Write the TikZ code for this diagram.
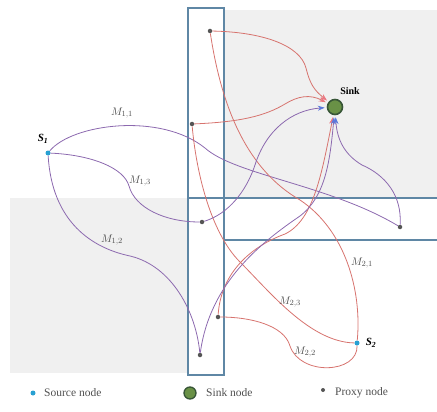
\documentclass[tikz,border=0pt]{standalone}
\usepackage{fontspec}
\setmainfont{Liberation Serif}
\usetikzlibrary{arrows.meta}
\definecolor{bggray}{RGB}{240,240,240}
\definecolor{stripblue}{RGB}{95,135,165}
\definecolor{purp}{RGB}{140,105,175}
\definecolor{redl}{RGB}{215,115,110}
\definecolor{arrowblue}{RGB}{90,120,220}
\definecolor{arrowred}{RGB}{235,120,130}
\definecolor{proxygray}{RGB}{85,85,85}
\definecolor{srcblue}{RGB}{40,160,210}
\definecolor{sinkgreen}{RGB}{105,145,70}
\definecolor{sinkdark}{RGB}{55,85,55}
\definecolor{labgray}{RGB}{80,80,80}
\begin{document}
\begin{tikzpicture}[x=1pt,y=-1pt,
  proxy/.style={circle,fill=proxygray,inner sep=0pt,minimum size=4.5pt},
  src/.style={circle,fill=srcblue,inner sep=0pt,minimum size=5pt},
  sinknode/.style={circle,fill=sinkgreen,draw=sinkdark,line width=1.6pt,minimum size=15pt,inner sep=0pt},
  pl/.style={draw=purp,line width=0.8pt},
  rl/.style={draw=redl,line width=0.8pt},
  arrB/.style={-{Stealth[length=7pt,width=5pt,color=arrowblue]},shorten >=2pt},
  arrR/.style={-{Stealth[length=7pt,width=5pt,color=arrowred]},shorten >=2pt},
  lbl/.style={text=labgray,font=\fontsize{11}{12}\selectfont},
  strip/.style={draw=stripblue,line width=1.1pt},
  legtext/.style={text=labgray,font=\fontsize{11.5}{12}\selectfont,anchor=west,inner sep=0pt}]
\useasboundingbox (0,0) rectangle (437,412);
% gray areas
\fill[bggray] (224,10) rectangle (437,198);
\fill[bggray] (10,198) rectangle (188,373);
% strips
\draw[strip] (188,8) rectangle (224,375);
\draw[strip] (188,198) -- (437,198);
\draw[strip] (224,240) -- (437,240);
% nodes
\node[src] (S1) at (48,153) {};
\node[src] (S2) at (357,343) {};
\node[sinknode] (K) at (335,107) {};
\node[proxy] (P1) at (210,31) {};
\node[proxy] (P2) at (192,124) {};
\node[proxy] (P3) at (202,222) {};
\node[proxy] (P4) at (400,227) {};
\node[proxy] (P5) at (218,317) {};
\node[proxy] (P6) at (200,355) {};
% S1 routes
\draw[pl] (S1) .. controls (72,124) and (160,112) .. (205,148) .. controls (235,175) and (330,185) .. (P4);
\draw[pl] (S1) .. controls (92,155) and (124,168) .. (129,186) .. controls (135,208) and (165,222) .. (P3);
\draw[pl] (S1) .. controls (52,222) and (92,248) .. (130,256) .. controls (172,266) and (196,312) .. (P6);
% S2 routes
\draw[rl] (S2) .. controls (362,290) and (345,230) .. (300,200) .. controls (248,170) and (222,110) .. (P1);
\draw[rl] (S2) .. controls (310,342) and (270,292) .. (240,262) .. controls (210,232) and (196,170) .. (P2);
\draw[rl] (S2) .. controls (358,374) and (300,376) .. (290,346) .. controls (284,325) and (250,317) .. (P5);
% proxy -> sink
\draw[rl,arrR] (P1) .. controls (262,32) and (300,45) .. (306,68) .. controls (310,84) and (314,90) .. (K);
\draw[rl,arrR] (P2) .. controls (240,122) and (265,116) .. (285,104) .. controls (298,96) and (310,94) .. (K);
\draw[pl,arrB] (P3) .. controls (228,214) and (246,192) .. (255,165) .. controls (266,130) and (292,110) .. (K);
\draw[rl,arrR] (P5) .. controls (221,272) and (252,246) .. (285,234) .. controls (314,220) and (322,172) .. (K);
\draw[pl,arrB] (P6) .. controls (210,282) and (262,242) .. (300,216) .. controls (326,196) and (330,160) .. (K);
\draw[pl,arrB] (P4) .. controls (402,195) and (385,175) .. (362,165) .. controls (345,155) and (337,140) .. (K);
% labels
\node[font=\bfseries\itshape\fontsize{11}{12}\selectfont,inner sep=0pt] (S1l) at (43,139) {S\textsubscript{1}};
\node[font=\bfseries\itshape\fontsize{11}{12}\selectfont,inner sep=0pt] (S2l) at (371,343) {S\textsubscript{2}};
\node[font=\bfseries\fontsize{10}{11}\selectfont,inner sep=0pt] (Kl) at (350,91) {Sink};
\node[lbl] (m11) at (122,113) {$M_{1,1}$};
\node[lbl] (m13) at (140,181) {$M_{1,3}$};
\node[lbl] (m12) at (112,240) {$M_{1,2}$};
\node[lbl] (m21) at (362,263) {$M_{2,1}$};
\node[lbl] (m23) at (290,302) {$M_{2,3}$};
\node[lbl] (m22) at (305,352) {$M_{2,2}$};
% legend
\node[src] (L1) at (33,393) {};
\node[legtext] (L1t) at (44,393) {Source node};
\node[sinknode,minimum size=12pt,line width=1.3pt] (L2) at (190,393) {};
\node[legtext] (L2t) at (206,393) {Sink node};
\node[proxy,minimum size=4pt] (L3) at (323,390) {};
\node[legtext] (L3t) at (335,393) {Proxy node};
\end{tikzpicture}
\end{document}
